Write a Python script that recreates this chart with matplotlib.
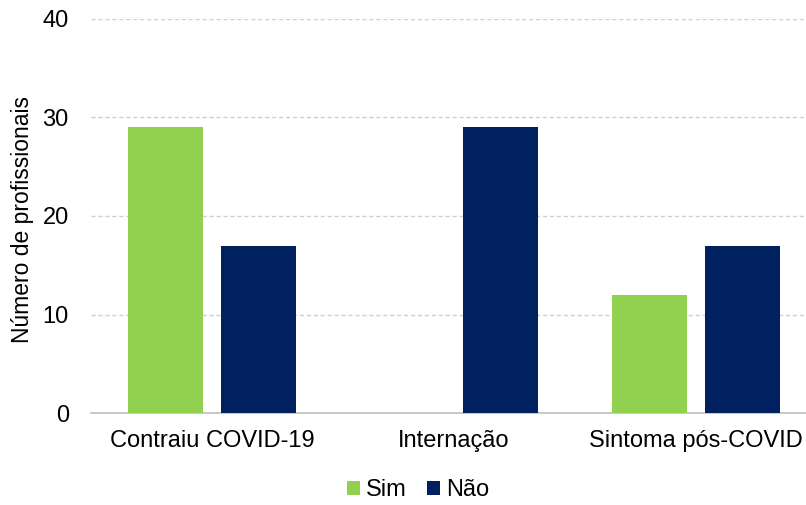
import numpy as np
import matplotlib.pyplot as plt

categories = ["Contraiu COVID-19", "Internação", "Sintoma pós-COVID"]
sim_values = [29, 0, 12]
nao_values = [17, 29, 17]

plt.rcParams['font.family'] = ['Liberation Sans', 'DejaVu Sans']

fig = plt.figure(figsize=(8.06, 5.05), dpi=100)
ax = fig.add_axes([91 / 806, 92 / 505, 726 / 806, 394 / 505])

x = np.arange(len(categories))
width = 0.31
offset = 0.192
ax.bar(x - offset, sim_values, width, color="#92D050", label="Sim", zorder=3)
ax.bar(x + offset, nao_values, width, color="#002060", label="Não", zorder=3)

ax.set_xlim(-0.5, 2.5)
ax.set_ylim(0, 40)
ax.set_yticks([0, 10, 20, 30, 40])
ax.set_xticks(x)
ax.set_xticklabels(categories, fontsize=17)
ax.tick_params(axis='y', labelsize=17, length=0, pad=16)
ax.tick_params(axis='x', length=0, pad=12)
ax.yaxis.grid(True, linestyle=(0, (3, 2)), color="#D0D0D0", linewidth=1)
ax.set_axisbelow(True)

for side in ['top', 'right', 'left']:
    ax.spines[side].set_visible(False)
ax.spines['bottom'].set_color("#BFBFBF")
ax.spines['bottom'].set_linewidth(1.2)

ax.set_ylabel("Número de profissionais", fontsize=16.5)
ax.yaxis.set_label_coords(-0.078, 0.49)

fig.legend(loc='center', bbox_to_anchor=(418 / 806, 1 - 490 / 505), ncol=2,
           frameon=False, fontsize=17, handlelength=0.55, handleheight=0.55,
           handletextpad=0.25, columnspacing=0.9)

fig.savefig("out.png", dpi=100)
